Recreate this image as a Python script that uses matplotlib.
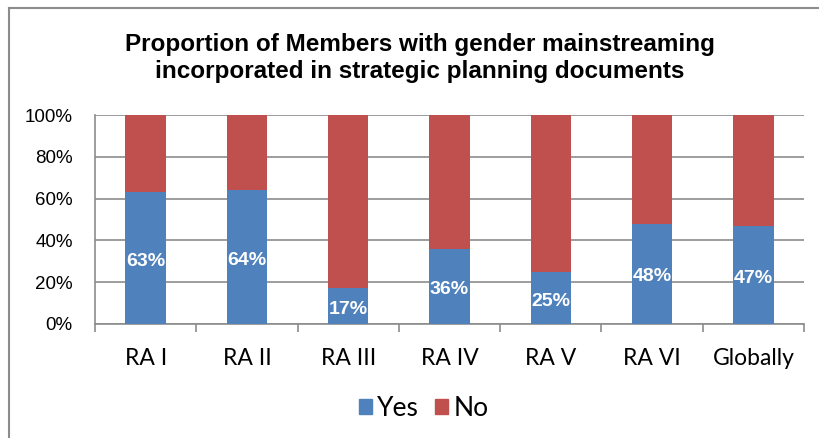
import matplotlib
matplotlib.use("Agg")
import matplotlib.pyplot as plt
from matplotlib.lines import Line2D
from matplotlib.patches import Patch
import numpy as np

# Data
regions = ["RA I", "RA II", "RA III", "RA IV", "RA V", "RA VI", "Globally"]
yes_pct = [63, 64, 17, 36, 25, 48, 47]
no_pct = [100 - v for v in yes_pct]
y_ticks = [0, 20, 40, 60, 80, 100]

blue = "#4F81BD"
red = "#C0504D"
grid_col = "#8C8C8C"

fig = plt.figure(figsize=(8.19, 4.38), dpi=100)
ax = fig.add_axes([95 / 819, 1 - 324 / 438, (804 - 95) / 819, (324 - 115) / 438])

x = np.arange(len(regions))
bw = 0.4
ax.bar(x, yes_pct, width=bw, color=blue, label="Yes", zorder=3)
ax.bar(x, no_pct, width=bw, bottom=yes_pct, color=red, label="No", zorder=3)

for xi, v in zip(x, yes_pct):
    ax.text(xi, v / 2 - 1.5, f"{v}%", ha="center", va="center", color="white",
            fontsize=14, fontweight="bold", family="Liberation Sans", zorder=4)

ax.set_xlim(-0.5, len(regions) - 0.5)
ax.set_ylim(0, 100)
ax.set_yticks(y_ticks)
ax.set_yticklabels([f"{t}%" for t in y_ticks], family="Liberation Sans", fontsize=13.5)
ax.yaxis.grid(True, color=grid_col, linewidth=1.2, zorder=0)
ax.tick_params(axis="y", length=0, pad=16)

# Category labels centred, boundary tick marks below the axis
ax.set_xticks(x)
ax.set_xticklabels(regions, family="Lato", fontsize=16.5)
ax.tick_params(axis="x", length=0, pad=17)
ax.set_xticks(np.arange(-0.5, len(regions)), minor=True)
ax.tick_params(axis="x", which="minor", length=6, width=1.2, color=grid_col)

for s in ["top", "right"]:
    ax.spines[s].set_visible(False)
ax.spines["left"].set_color(grid_col)
ax.spines["bottom"].set_color(grid_col)
ax.spines["left"].set_linewidth(1.2)
ax.spines["bottom"].set_linewidth(1.2)

fig.text(0.513, 1 - 58 / 438,
         "Proportion of Members with gender mainstreaming\nincorporated in strategic planning documents",
         ha="center", va="center", fontsize=17.5, fontweight="bold",
         family="Liberation Sans", linespacing=1.2)

handles = [Patch(color=blue, label="Yes"), Patch(color=red, label="No")]
fig.legend(handles=handles, loc="center", bbox_to_anchor=(0.517, 1 - 408 / 438),
           ncol=2, frameon=False, prop={"family": "Lato", "size": 19},
           handlelength=0.5, handleheight=0.5, handletextpad=0.2, columnspacing=0.6)

# Outer frame (left and top edges)
fig.add_artist(Line2D([9 / 819, 9 / 819], [0, 1 - 8 / 438], transform=fig.transFigure,
                      color="#8C8C8C", linewidth=1.5))
fig.add_artist(Line2D([9 / 819, 1], [1 - 8 / 438, 1 - 8 / 438], transform=fig.transFigure,
                      color="#8C8C8C", linewidth=1.5))

fig.savefig("out.png", dpi=100)
